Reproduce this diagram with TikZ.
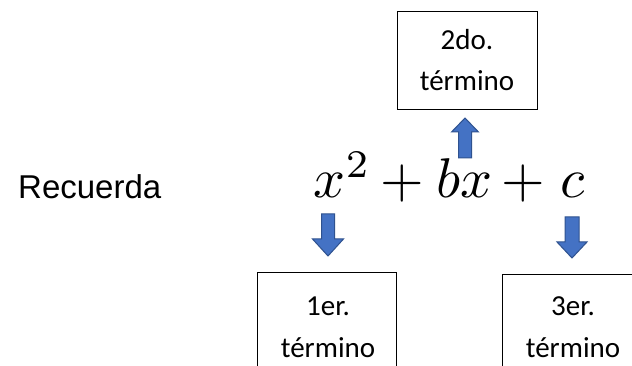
\documentclass[tikz,border=0pt]{standalone}
\usepackage{graphicx}
\usepackage{fontspec}
\setmainfont{Carlito}
\newfontfamily\recfont{Liberation Sans}
\definecolor{arrowfill}{HTML}{4472C4}
\definecolor{arrowedge}{HTML}{2F528F}
\newcommand{\bigeq}[1]{\scalebox{5.6}{\fontsize{10}{12}\selectfont$#1$}}
\begin{document}
\begin{tikzpicture}[x=1pt,y=-1pt,
  termbox/.style={draw=black, line width=1.3pt, inner sep=0pt, anchor=north west},
  termtext/.style={font=\fontsize{29}{34}\selectfont, inner sep=0pt, anchor=base},
  eqpart/.style={inner sep=0pt, anchor=base},
  blockarrow/.style={fill=arrowfill, draw=arrowedge, line width=1pt, line join=miter}]
\useasboundingbox (0,0) rectangle (632,366);
\clip (0,0) rectangle (632,366);
\fill[white] (0,0) rectangle (632,366);
% label
\node[font=\recfont\fontsize{33}{38}\selectfont, inner sep=0pt, anchor=base west] (rec) at (18,199) {Recuerda};
% equation
\node[eqpart] (eqx) at (342.5,198) {\bigeq{x^2}};
\node[eqpart] (eqp1) at (402.5,198) {\bigeq{+}};
\node[eqpart] (eqbx) at (464.5,198) {\bigeq{bx}};
\node[eqpart] (eqp2) at (523.5,198) {\bigeq{+}};
\node[eqpart] (eqc) at (572.5,198) {\bigeq{c}};
% boxes
\node[termbox, minimum width=140pt, minimum height=98pt] (box2) at (397,11) {};
\node[termbox, minimum width=139pt, minimum height=120pt] (box1) at (257,272) {};
\node[termbox, minimum width=141pt, minimum height=120pt] (box3) at (502,274) {};
% box texts
\node[termtext] (t2a) at (467,50) {2do.};
\node[termtext] (t2b) at (467,91) {término};
\node[termtext] (t1a) at (328,315) {1er.};
\node[termtext] (t1b) at (328,357) {término};
\node[termtext] (t3a) at (573,315) {3er.};
\node[termtext] (t3b) at (573,357) {término};
% block arrows
\draw[blockarrow] (458.5,158) -- (458.5,132) -- (451.5,132) -- (465,118) -- (478.5,132) -- (471.5,132) -- (471.5,158) -- cycle;
\draw[blockarrow] (321.5,214) -- (334.5,214) -- (334.5,239) -- (343.5,239) -- (328,256) -- (312.5,239) -- (321.5,239) -- cycle;
\draw[blockarrow] (565,217) -- (579,217) -- (579,242) -- (587,242) -- (572,258) -- (557,242) -- (565,242) -- cycle;
\end{tikzpicture}
\end{document}
